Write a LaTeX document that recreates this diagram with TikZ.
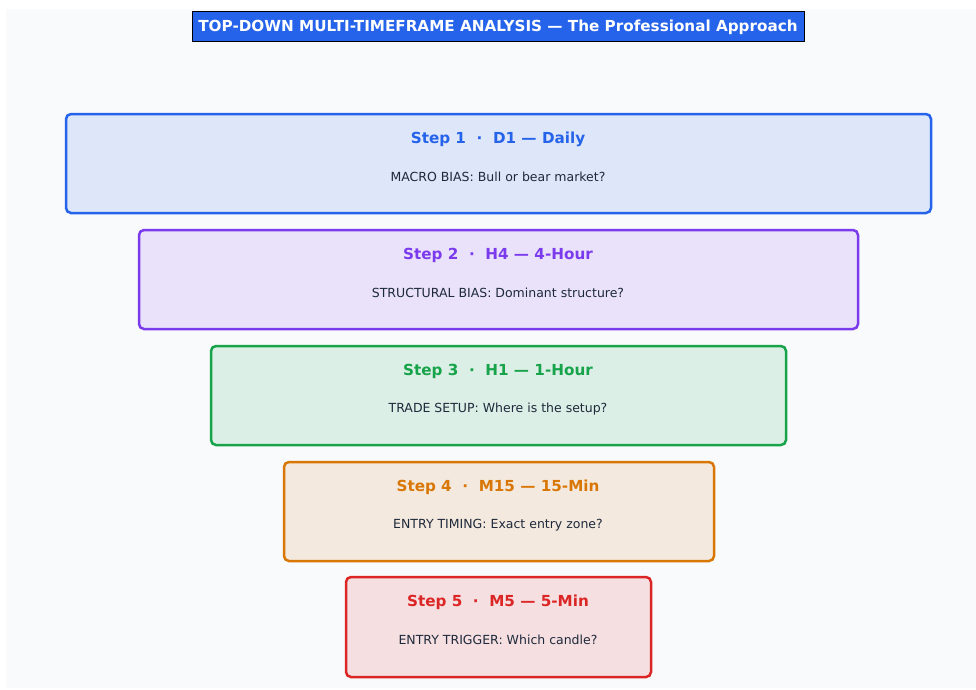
\documentclass[tikz,border=0pt]{standalone}
\usepackage{fontspec}
\setmainfont{DejaVu Sans}
\definecolor{bg}{HTML}{F8FAFC}
\definecolor{tblue}{HTML}{2563EB}
\definecolor{c1}{HTML}{2563EB}\definecolor{f1}{HTML}{DEE6F9}
\definecolor{c2}{HTML}{7C3AED}\definecolor{f2}{HTML}{E9E2FA}
\definecolor{c3}{HTML}{16A34A}\definecolor{f3}{HTML}{DCEFE6}
\definecolor{c4}{HTML}{D97706}\definecolor{f4}{HTML}{F4E9DE}
\definecolor{c5}{HTML}{DC2626}\definecolor{f5}{HTML}{F5DFE0}
\definecolor{sub}{HTML}{1E293B}
\tikzset{
  stepbox/.style={draw=#1, line width=2.5pt, rounded corners=5pt},
  steptitle/.style={font=\fontsize{15.2}{17}\selectfont\bfseries, text=#1, inner sep=0pt},
  stepsub/.style={font=\fontsize{12.5}{14}\selectfont, text=sub, inner sep=0pt},
}
\begin{document}
\begin{tikzpicture}[x=1pt,y=-1pt]
\useasboundingbox (0,0) rectangle (976,689);
\fill[white] (0,0) rectangle (976,689);
\fill[bg] (6,9) rectangle (976,688);
\draw[fill=tblue, draw=black, line width=0.8pt] (192,11) rectangle (804,41);
\node[inner sep=0pt, text=white, font=\fontsize{15.2}{17}\selectfont\bfseries] (title) at (498,27)
  {TOP-DOWN MULTI-TIMEFRAME ANALYSIS — The Professional Approach};

% boxes
\draw[stepbox=c1, fill=f1] (66,114) rectangle (931,213);
\node[steptitle=c1] (t1) at (498,139.5) {Step 1\ \ ·\ \ D1 — Daily};
\node[stepsub] (s1) at (498,177) {MACRO BIAS: Bull or bear market?};

\draw[stepbox=c2, fill=f2] (139,230) rectangle (858,329);
\node[steptitle=c2] (t2) at (498,255.5) {Step 2\ \ ·\ \ H4 — 4-Hour};
\node[stepsub] (s2) at (498,293) {STRUCTURAL BIAS: Dominant structure?};

\draw[stepbox=c3, fill=f3] (211,346) rectangle (786,445);
\node[steptitle=c3] (t3) at (498,371.5) {Step 3\ \ ·\ \ H1 — 1-Hour};
\node[stepsub] (s3) at (498,409) {TRADE SETUP: Where is the setup?};

\draw[stepbox=c4, fill=f4] (284,462) rectangle (714,561);
\node[steptitle=c4] (t4) at (498,487.5) {Step 4\ \ ·\ \ M15 — 15-Min};
\node[stepsub] (s4) at (498,525) {ENTRY TIMING: Exact entry zone?};

\draw[stepbox=c5, fill=f5] (346,577) rectangle (651,677);
\node[steptitle=c5] (t5) at (498,602.5) {Step 5\ \ ·\ \ M5 — 5-Min};
\node[stepsub] (s5) at (498,640) {ENTRY TRIGGER: Which candle?};
\end{tikzpicture}
\end{document}
